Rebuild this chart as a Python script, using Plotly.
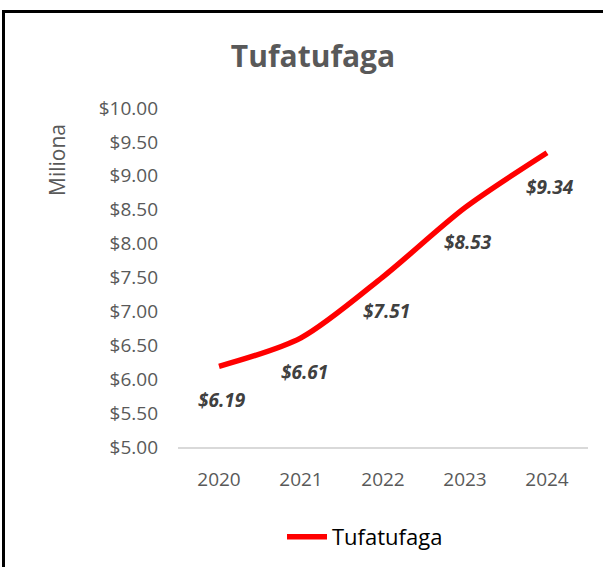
import plotly.graph_objects as go

years = ["2020", "2021", "2022", "2023", "2024"]
values = [6.19, 6.61, 7.51, 8.53, 9.34]
labels = ["$6.19", "$6.61", "$7.51", "$8.53", "$9.34"]
series_name = "Tufatufaga"
title_text = "Tufatufaga"
y_title = "Miliona"
y_ticks = [5.0, 5.5, 6.0, 6.5, 7.0, 7.5, 8.0, 8.5, 9.0, 9.5, 10.0]

W, H = 603, 567
L, R, T, B = 178, 15, 108, 120
pw = W - L - R
ph = H - T - B

FONT = "Open Sans, Lato, sans-serif"

fig = go.Figure()
fig.add_trace(go.Scatter(
    x=years, y=values, mode="lines", name=series_name,
    line=dict(color="#ff0000", width=5.5, shape="spline", smoothing=0.8),
    hoverinfo="skip",
))

for i, (y, t) in enumerate(zip(values, labels)):
    fig.add_annotation(x=i, xref="x", y=y, yref="y",
                       text="<b><i>" + t + "</i></b>", showarrow=False,
                       yshift=-34, xshift=3,
                       font=dict(family=FONT, size=19, color="#404040"))

fig.add_annotation(xref="paper", yref="paper",
                   x=(57 - L) / pw, y=1 - (160 - T) / ph,
                   xanchor="center", yanchor="middle",
                   text=y_title, textangle=-90, showarrow=False,
                   font=dict(family=FONT, size=21, color="#595959"))

# border (left and top edges visible)
fig.add_shape(type="line", xref="paper", yref="paper",
              x0=(3.5 - L) / pw, x1=(3.5 - L) / pw,
              y0=1 + (T - 11.5) / ph, y1=-(B + 5) / ph,
              line=dict(color="black", width=3))
fig.add_shape(type="line", xref="paper", yref="paper",
              x0=(2 - L) / pw, x1=(W + 5 - L) / pw,
              y0=1 + (T - 11.5) / ph, y1=1 + (T - 11.5) / ph,
              line=dict(color="black", width=3))

fig.update_layout(
    width=W, height=H,
    margin=dict(l=L, r=R, t=T, b=B),
    paper_bgcolor="white", plot_bgcolor="white",
    title=dict(text="<b>" + title_text + "</b>", x=313 / W, xanchor="center",
               y=1 - 56 / H, yanchor="middle",
               font=dict(family=FONT, size=30, color="#595959")),
    xaxis=dict(type="category", showgrid=False, showline=True,
               linecolor="#d9d9d9", linewidth=1.5, ticks="",
               tickfont=dict(family=FONT, size=19, color="#595959"),
               ticklabelstandoff=14, range=[-0.5, 4.5]),
    yaxis=dict(range=[5, 10], tickvals=y_ticks,
               ticktext=["$%.2f" % v for v in y_ticks],
               showgrid=False, zeroline=False, showline=False, ticks="",
               tickfont=dict(family=FONT, size=19, color="#595959"),
               ticklabelstandoff=19),
    showlegend=True,
    legend=dict(orientation="h", x=(282 - L) / pw, xanchor="left",
                yref="container", y=1 - 537 / H, yanchor="middle",
                font=dict(family=FONT, size=22, color="#000000"),
                itemwidth=40),
)

fig.write_html("out.html", config={"displayModeBar": False},
               post_script="document.body.style.margin='0';")
